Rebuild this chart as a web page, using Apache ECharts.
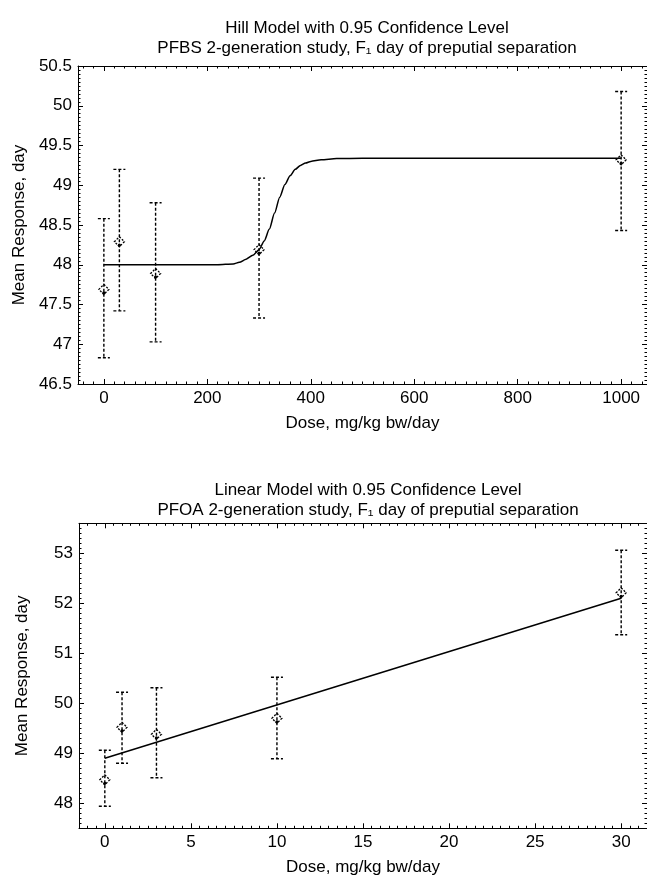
<!DOCTYPE html>
<html><head><meta charset="utf-8">
<script src="https://cdn.jsdelivr.net/npm/echarts@6/dist/echarts.min.js"></script>
<style>html,body{margin:0;padding:0;background:#fff}#c{width:647px;height:884px}</style>
</head><body><div id="c"></div>
<script>
// ---- Top chart: Hill model (PFBS) ----
const hillDose  = [0, 30, 100, 300, 1000];
const hillMean  = [47.69, 48.29, 47.89, 48.19, 49.32];
const hillLower = [46.83, 47.42, 47.03, 47.33, 48.43];
const hillUpper = [48.58, 49.20, 48.78, 49.09, 50.18];
const hillCurveDose = [0, 220, 250, 262, 275, 288, 300, 310, 320, 330, 340, 350, 360, 370, 380, 390, 400, 420, 450, 500, 1000];
const hillCurveResp = [48.0, 48.0, 48.01, 48.03, 48.07, 48.12, 48.19, 48.3, 48.45, 48.65, 48.85, 49.01, 49.12, 49.2, 49.25, 49.28, 49.3, 49.32, 49.335, 49.34, 49.34];
const hillXTicks = [0, 200, 400, 600, 800, 1000];
const hillYTicks = [46.5, 47, 47.5, 48, 48.5, 49, 49.5, 50, 50.5];

// ---- Bottom chart: Linear model (PFOA) ----
const linDose  = [0, 1, 3, 10, 30];
const linMean  = [48.47, 49.52, 49.38, 49.70, 52.21];
const linLower = [47.94, 48.80, 48.51, 48.89, 51.37];
const linUpper = [49.06, 50.22, 50.31, 50.52, 53.06];
const linFitDose = [0, 30];
const linFitResp = [48.90, 52.10];
const linXTicks = [0, 5, 10, 15, 20, 25, 30];
const linYTicks = [48, 49, 50, 51, 52, 53];

const FONT = '"Liberation Sans", Arial, sans-serif';
const FS = 17;

function range(a, b, step) {
  const out = []; const n = Math.round((b - a) / step);
  for (let i = 0; i <= n; i++) out.push(+(a + i * step).toFixed(6));
  return out;
}

function axisSet(dim, grid, min, max, majors, minors, name, nameGap) {
  const posA = dim === 'x' ? 'bottom' : 'left';
  const posB = dim === 'x' ? 'top' : 'right';
  const base = {type: 'value', gridIndex: grid, min: min, max: max, splitLine: {show: false}, scale: true};
  const line = {show: true, onZero: false, lineStyle: {color: '#000', width: 1}};
  const noLine = {show: false, onZero: false};
  const tickMaj = {show: true, inside: true, length: 5, lineStyle: {color: '#000', width: 1}, customValues: majors};
  const tickMin = {show: true, inside: true, length: 2.5, lineStyle: {color: '#000', width: 1}, customValues: minors};
  return [
    Object.assign({}, base, {position: posA, axisLine: line, axisTick: tickMaj,
      axisLabel: {show: true, customValues: majors, color: '#000', fontFamily: FONT, fontSize: FS, margin: 6,
        formatter: function (v) { return String(v); }},
      name: name, nameLocation: 'middle', nameGap: nameGap,
      nameTextStyle: {color: '#000', fontFamily: FONT, fontSize: FS}}),
    Object.assign({}, base, {position: posA, axisLine: noLine, axisTick: tickMin, axisLabel: {show: false}}),
    Object.assign({}, base, {position: posB, axisLine: line, axisTick: tickMaj, axisLabel: {show: false}}),
    Object.assign({}, base, {position: posB, axisLine: noLine, axisTick: tickMin, axisLabel: {show: false}})
  ];
}

function errRender(params, api) {
  const x = api.value(0), m = api.value(1), lo = api.value(2), hi = api.value(3);
  const pT = api.coord([x, hi]), pB = api.coord([x, lo]), pM = api.coord([x, m]);
  const cap = 6, d = 5;
  const dashed = {stroke: '#000', lineWidth: 1.4, lineDash: [3, 2], fill: null};
  return {type: 'group', children: [
    {type: 'line', shape: {x1: pT[0], y1: pT[1], x2: pB[0], y2: pB[1]}, style: dashed},
    {type: 'line', shape: {x1: pT[0] - cap, y1: pT[1], x2: pT[0] + cap, y2: pT[1]}, style: dashed},
    {type: 'line', shape: {x1: pB[0] - cap, y1: pB[1], x2: pB[0] + cap, y2: pB[1]}, style: dashed},
    {type: 'polygon', shape: {points: [[pM[0], pM[1] - d], [pM[0] + d, pM[1]], [pM[0], pM[1] + d], [pM[0] - d, pM[1]]]},
      style: {stroke: '#000', fill: null, lineWidth: 1.3, lineDash: [2, 1.5]}},
    {type: 'circle', shape: {cx: pM[0], cy: pM[1] + d - 1.5, r: 1.6}, style: {fill: '#000'}}
  ]};
}

function zip4(a, b, c, d) { return a.map((v, i) => [v, b[i], c[i], d[i]]); }
function zip2(a, b) { return a.map((v, i) => [v, b[i]]); }

const xAxes = [].concat(
  axisSet('x', 0, -50, 1050, hillXTicks, range(-40, 1040, 20), 'Dose, mg/kg bw/day', 31),
  axisSet('x', 1, -1.5, 31.5, linXTicks, range(-1.5, 31.5, 0.5), 'Dose, mg/kg bw/day', 31)
);
const yAxes = [].concat(
  axisSet('y', 0, 46.5, 50.5, hillYTicks, range(46.5, 50.5, 0.05), 'Mean Response, day', 48),
  axisSet('y', 1, 47.5, 53.6, linYTicks, range(47.5, 53.6, 0.1), 'Mean Response, day', 48)
);

const chart = echarts.init(document.getElementById('c'), null, {renderer: 'canvas'});
chart.setOption({
  animation: false,
  backgroundColor: '#fff',
  title: [
    {text: 'Hill Model with 0.95 Confidence Level\nPFBS 2-generation study, F\u2081 day of preputial separation',
      left: 362, top: 13, textAlign: 'center',
      textStyle: {color: '#000', fontFamily: FONT, fontSize: FS, fontWeight: 'normal', lineHeight: 20}},
    {text: 'Linear Model with 0.95 Confidence Level\nPFOA 2-generation study, F\u2081 day of preputial separation',
      left: 363, top: 475, textAlign: 'center',
      textStyle: {color: '#000', fontFamily: FONT, fontSize: FS, fontWeight: 'normal', lineHeight: 20}}
  ],
  grid: [
    {left: 78, top: 66, width: 571.5, height: 318},
    {left: 79, top: 523.3, width: 570.5, height: 305}
  ],
  xAxis: xAxes,
  yAxis: yAxes,
  series: [
    {type: 'line', xAxisIndex: 0, yAxisIndex: 0, data: zip2(hillCurveDose, hillCurveResp), showSymbol: false,
      smooth: 0.25, smoothMonotone: 'x', lineStyle: {color: '#000', width: 1.5}, z: 3},
    {type: 'custom', xAxisIndex: 0, yAxisIndex: 0, data: zip4(hillDose, hillMean, hillLower, hillUpper),
      encode: {x: 0, y: [1, 2, 3]}, renderItem: errRender, z: 4},
    {type: 'line', xAxisIndex: 4, yAxisIndex: 4, data: zip2(linFitDose, linFitResp), showSymbol: false,
      lineStyle: {color: '#000', width: 1.5}, z: 3},
    {type: 'custom', xAxisIndex: 4, yAxisIndex: 4, data: zip4(linDose, linMean, linLower, linUpper),
      encode: {x: 0, y: [1, 2, 3]}, renderItem: errRender, z: 4}
  ]
});
</script></body></html>
